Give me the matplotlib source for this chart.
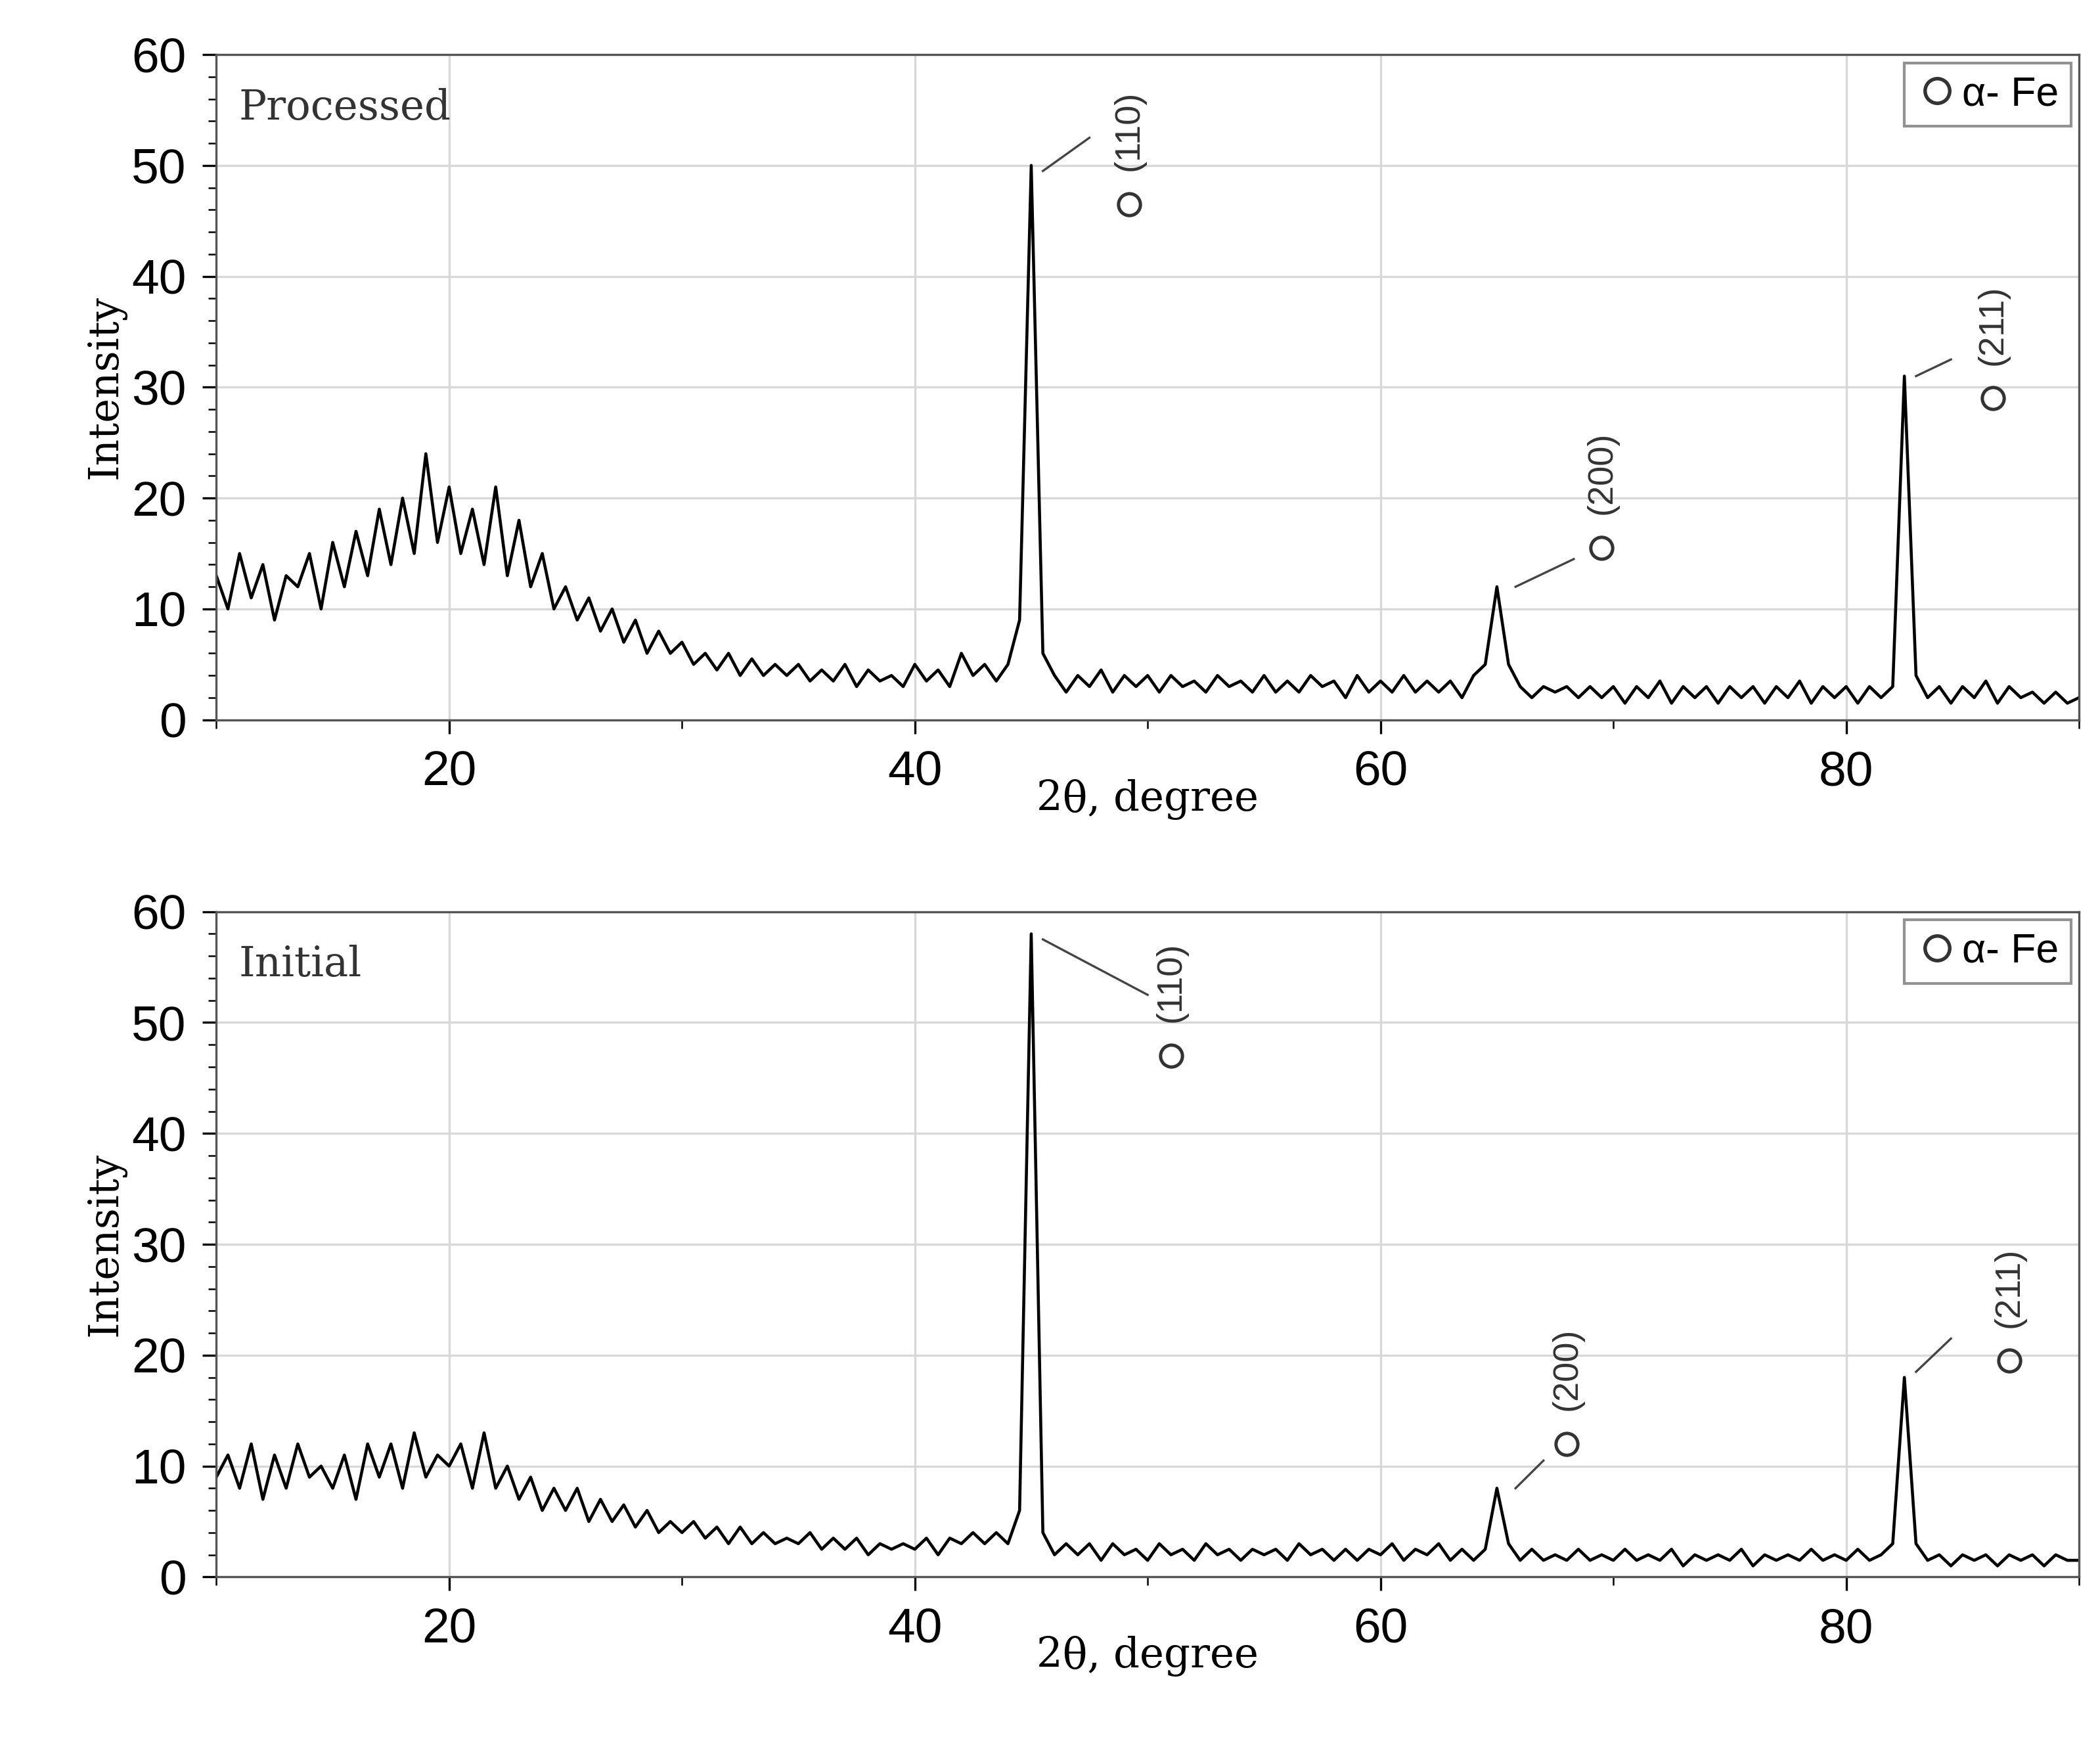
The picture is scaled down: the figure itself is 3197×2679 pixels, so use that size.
import numpy as np
import matplotlib.pyplot as plt
from matplotlib.lines import Line2D
from matplotlib.ticker import MultipleLocator

# 2-theta grid, 0.5 degree step
two_theta = np.arange(10, 90.01, 0.5)

processed = [
    13, 10, 15, 11, 14, 9, 13, 12, 15, 10,
    16, 12, 17, 13, 19, 14, 20, 15, 24, 16,
    21, 15, 19, 14, 21, 13, 18, 12, 15, 10,
    12, 9, 11, 8, 10, 7, 9, 6, 8, 6,
    7, 5, 6, 4.5, 6, 4, 5.5, 4, 5, 4,
    5, 3.5, 4.5, 3.5, 5, 3, 4.5, 3.5, 4, 3,
    5, 3.5, 4.5, 3, 6, 4, 5, 3.5, 5, 9,
    50, 6, 4, 2.5, 4, 3, 4.5, 2.5, 4, 3,
    4, 2.5, 4, 3, 3.5, 2.5, 4, 3, 3.5, 2.5,
    4, 2.5, 3.5, 2.5, 4, 3, 3.5, 2, 4, 2.5,
    3.5, 2.5, 4, 2.5, 3.5, 2.5, 3.5, 2, 4, 5,
    12, 5, 3, 2, 3, 2.5, 3, 2, 3, 2,
    3, 1.5, 3, 2, 3.5, 1.5, 3, 2, 3, 1.5,
    3, 2, 3, 1.5, 3, 2, 3.5, 1.5, 3, 2,
    3, 1.5, 3, 2, 3, 31, 4, 2, 3, 1.5,
    3, 2, 3.5, 1.5, 3, 2, 2.5, 1.5, 2.5, 1.5,
    2,
]

initial = [
    9, 11, 8, 12, 7, 11, 8, 12, 9, 10,
    8, 11, 7, 12, 9, 12, 8, 13, 9, 11,
    10, 12, 8, 13, 8, 10, 7, 9, 6, 8,
    6, 8, 5, 7, 5, 6.5, 4.5, 6, 4, 5,
    4, 5, 3.5, 4.5, 3, 4.5, 3, 4, 3, 3.5,
    3, 4, 2.5, 3.5, 2.5, 3.5, 2, 3, 2.5, 3,
    2.5, 3.5, 2, 3.5, 3, 4, 3, 4, 3, 6,
    58, 4, 2, 3, 2, 3, 1.5, 3, 2, 2.5,
    1.5, 3, 2, 2.5, 1.5, 3, 2, 2.5, 1.5, 2.5,
    2, 2.5, 1.5, 3, 2, 2.5, 1.5, 2.5, 1.5, 2.5,
    2, 3, 1.5, 2.5, 2, 3, 1.5, 2.5, 1.5, 2.5,
    8, 3, 1.5, 2.5, 1.5, 2, 1.5, 2.5, 1.5, 2,
    1.5, 2.5, 1.5, 2, 1.5, 2.5, 1, 2, 1.5, 2,
    1.5, 2.5, 1, 2, 1.5, 2, 1.5, 2.5, 1.5, 2,
    1.5, 2.5, 1.5, 2, 3, 18, 3, 1.5, 2, 1,
    2, 1.5, 2, 1, 2, 1.5, 2, 1, 2, 1.5,
    1.5,
]

peak_labels = ['(110)', '(200)', '(211)']
# (peak x, peak y, line end x, line end y, circle x, circle y, text y)
ann_processed = [(45.5, 49.5, 47.5, 52.5, 49.2, 46.5, 49.5),
                 (65.8, 12, 68.3, 14.5, 69.5, 15.5, 18.5),
                 (83, 31, 84.5, 32.5, 86.3, 29, 32)]
ann_initial = [(45.5, 57.5, 50, 52.5, 51, 47, 50)
               , (65.8, 8, 67, 10.5, 68, 12, 15)
               , (83, 18.5, 84.5, 21.5, 87, 19.5, 22.5)]

plt.rcParams['font.family'] = ['Liberation Sans', 'DejaVu Sans']

fig = plt.figure(figsize=(3197 / 300, 2679 / 300), dpi=300)
ax1 = fig.add_axes([0.103, 0.591, 0.887, 0.378])
ax2 = fig.add_axes([0.103, 0.104, 0.887, 0.378])

for ax, y, name, anns in [(ax1, processed, 'Processed', ann_processed),
                          (ax2, initial, 'Initial', ann_initial)]:
    ax.plot(two_theta, y, color='black', lw=1.1)
    ax.set_xlim(10, 90)
    ax.set_ylim(0, 60)
    ax.xaxis.set_major_locator(MultipleLocator(20))
    ax.xaxis.set_minor_locator(MultipleLocator(10))
    ax.yaxis.set_major_locator(MultipleLocator(10))
    ax.yaxis.set_minor_locator(MultipleLocator(2))
    ax.grid(True, which='major', color='#d8d8d8', lw=0.8)
    ax.tick_params(labelsize=18, direction='out', length=5, pad=6)
    ax.tick_params(which='minor', length=3)
    for s in ax.spines.values():
        s.set_color('#555555')
    ax.set_xlabel('2θ, degree', family='DejaVu Serif', fontsize=15, labelpad=-6)
    ax.set_ylabel('Intensity', family='DejaVu Serif', fontsize=15, labelpad=2)
    ax.text(0.012, 0.95, name, transform=ax.transAxes, family='DejaVu Serif',
            fontsize=15, va='top', ha='left', color='#333333')
    for lab, (px, py, lx, ly, cx, cy, ty) in zip(peak_labels, anns):
        ax.plot([px, lx], [py, ly], color='#444444', lw=0.8)
        ax.plot(cx, cy, 'o', mfc='none', mec='#333333', ms=8, mew=1.2)
        ax.text(cx, ty, lab, rotation=90, ha='center', va='bottom',
                fontsize=13, color='#333333')
    h = Line2D([], [], marker='o', mfc='none', mec='#333333', ms=9, mew=1.3, ls='none')
    leg = ax.legend([h], ['α- Fe'], loc='upper right', fontsize=15,
                    frameon=True, fancybox=False, handletextpad=0.1,
                    handlelength=1.0, borderpad=0.3, borderaxespad=0.2)
    leg.get_frame().set_edgecolor('#777777')

fig.savefig('out.png', dpi=300)
